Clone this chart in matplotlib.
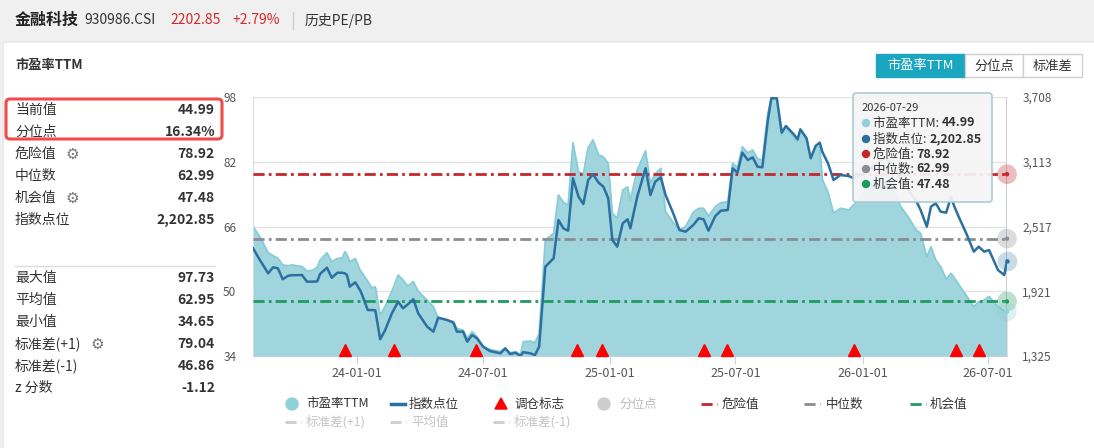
import matplotlib
matplotlib.use('Agg')
import matplotlib.pyplot as plt
import matplotlib.dates as mdates
from matplotlib.patches import FancyBboxPatch, Rectangle, Circle, Polygon
from matplotlib.lines import Line2D
import pandas as pd

plt.rcParams['font.family'] = ['Noto Sans CJK SC', 'DejaVu Sans']

# 数据
dates = [
    '2023-08-03', '2023-08-13', '2023-08-25', '2023-09-01', '2023-09-08', '2023-09-15',
    '2023-09-23', '2023-09-28', '2023-10-13', '2023-10-20', '2023-10-29', '2023-11-04',
    '2023-11-08', '2023-11-18', '2023-11-25', '2023-12-03', '2023-12-10', '2023-12-14',
    '2023-12-17', '2023-12-21', '2023-12-29', '2024-01-05', '2024-01-08', '2024-01-16',
    '2024-01-22', '2024-01-27', '2024-02-03', '2024-02-10', '2024-02-20', '2024-02-29',
    '2024-03-07', '2024-03-14', '2024-03-22', '2024-03-29', '2024-04-11', '2024-04-20',
    '2024-04-27', '2024-05-10', '2024-05-19', '2024-05-24', '2024-06-02', '2024-06-08',
    '2024-06-15', '2024-06-22', '2024-07-01', '2024-07-11', '2024-07-26', '2024-08-02',
    '2024-08-09', '2024-08-17', '2024-08-24', '2024-08-28', '2024-09-07', '2024-09-14',
    '2024-09-20', '2024-09-29', '2024-10-11', '2024-10-18', '2024-10-25', '2024-11-01',
    '2024-11-08', '2024-11-16', '2024-11-23', '2024-11-30', '2024-12-07', '2024-12-15',
    '2024-12-22', '2024-12-29', '2025-01-04', '2025-01-11', '2025-01-19', '2025-01-26',
    '2025-01-30', '2025-02-09', '2025-02-21', '2025-02-28', '2025-03-07', '2025-03-15',
    '2025-03-22', '2025-04-02', '2025-04-11', '2025-04-20', '2025-05-01', '2025-05-09',
    '2025-05-16', '2025-05-23', '2025-06-02', '2025-06-10', '2025-06-20', '2025-06-27',
    '2025-07-04', '2025-07-11', '2025-07-19', '2025-07-26', '2025-08-02', '2025-08-09',
    '2025-08-17', '2025-08-22', '2025-08-30', '2025-09-06', '2025-09-12', '2025-09-23',
    '2025-09-29', '2025-10-03', '2025-10-12', '2025-10-18', '2025-10-25', '2025-10-31',
    '2025-11-04', '2025-11-12', '2025-11-20', '2025-11-30', '2025-12-12', '2025-12-19',
    '2025-12-29', '2026-01-10', '2026-01-22', '2026-02-02', '2026-02-14', '2026-02-25',
    '2026-03-08', '2026-03-19', '2026-03-26', '2026-04-04', '2026-04-10', '2026-04-17',
    '2026-04-24', '2026-05-02', '2026-05-09', '2026-05-13', '2026-05-19', '2026-05-31',
    '2026-06-11', '2026-06-18', '2026-06-26', '2026-07-03', '2026-07-16', '2026-07-25',
    '2026-07-29',
]
pe_ttm = [
    66.0, 63.5, 59.5, 58.8, 58.2, 56.5,
    56.3, 56.5, 56.1, 55.0, 55.2, 56.0,
    57.7, 59.5, 57.3, 58.1, 58.2, 59.8,
    59.0, 57.3, 58.1, 55.2, 54.5, 52.5,
    50.8, 51.1, 44.1, 46.2, 50.0, 54.0,
    52.8, 51.3, 52.4, 50.0, 47.8, 46.2,
    43.3, 42.9, 42.5, 40.8, 40.4, 38.4,
    40.0, 38.8, 36.3, 35.6, 35.1, 35.9,
    34.8, 35.1, 34.3, 37.5, 37.7, 37.3,
    39.5, 62.7, 64.3, 73.8, 72.0, 71.3,
    86.7, 79.5, 79.0, 85.5, 87.4, 83.7,
    83.2, 81.6, 69.3, 68.0, 75.0, 75.8,
    72.5, 80.0, 84.7, 76.7, 79.0, 80.4,
    69.7, 67.0, 65.1, 66.0, 69.5, 70.5,
    70.5, 68.6, 70.9, 71.9, 72.1, 81.6,
    80.6, 85.7, 84.2, 84.9, 82.8, 82.4,
    94.0, 97.73, 97.7, 88.6, 90.7, 88.2,
    87.0, 89.9, 87.4, 82.8, 85.7, 85.7,
    77.5, 74.5, 69.3, 70.5, 70.1, 71.3,
    73.0, 76.0, 79.0, 81.0, 76.0, 71.0,
    68.4, 65.3, 64.3, 58.5, 61.0, 57.7,
    56.1, 53.0, 54.4, 53.5, 52.0, 49.0,
    46.2, 47.4, 47.8, 48.7, 46.2, 45.0,
    44.99,
]
index_pts = [
    2316, 2208, 2086, 2141, 2132, 2031,
    2064, 2068, 2070, 2009, 2009, 2012,
    2080, 2137, 2045, 2091, 2091, 2085,
    2070, 1963, 2003, 1930, 1886, 1748,
    1748, 1745, 1479, 1560, 1718, 1825,
    1764, 1800, 1847, 1718, 1595, 1549,
    1678, 1656, 1632, 1549, 1549, 1457,
    1518, 1488, 1411, 1370, 1350, 1396,
    1343, 1355, 1325, 1360, 1350, 1334,
    1411, 2147, 2224, 2576, 2500, 2478,
    2960, 2791, 2723, 2944, 2997, 2920,
    2883, 2776, 2392, 2331, 2546, 2583,
    2500, 2791, 3052, 2806, 2929, 2969,
    2806, 2638, 2484, 2469, 2530, 2592,
    2583, 2478, 2613, 2662, 2668, 3052,
    3012, 3196, 3128, 3153, 3067, 3061,
    3496, 3696, 3696, 3380, 3441, 3368,
    3319, 3411, 3328, 3144, 3257, 3288,
    3200, 3098, 2944, 2990, 2981, 2960,
    2990, 3040, 3100, 3150, 3080, 2950,
    2850, 2760, 2668, 2515, 2699, 2730,
    2653, 2644, 2791, 2714, 2622, 2454,
    2285, 2331, 2285, 2300, 2116, 2070,
    2202.85,
]
rebalance_dates = ['2023-12-14', '2024-02-23', '2024-06-21', '2024-11-14', '2024-12-20',
                   '2025-05-16', '2025-06-19', '2025-12-19', '2026-05-16', '2026-06-18']
danger_val = 78.92
median_val = 62.99
chance_val = 47.48

stat_labels_top = ['当前值', '分位点', '危险值', '中位数', '机会值', '指数点位']
stat_values_top = ['44.99', '16.34%', '78.92', '62.99', '47.48', '2,202.85']
stat_labels_bottom = ['最大值', '平均值', '最小值', '标准差(+1)', '标准差(-1)', 'z 分数']
stat_values_bottom = ['97.73', '62.95', '34.65', '79.04', '46.86', '-1.12']

pe_ticks = [34, 50, 66, 82, 98]
idx_ticks = [1325, 1921, 2517, 3113, 3708]
x_ticks = ['2024-01-01', '2024-07-01', '2025-01-01', '2025-07-01', '2026-01-01', '2026-07-01']

# 颜色
c_fill = '#a0d5de'
c_edge = '#86ccd7'
c_idx = '#2b70a0'
c_danger = '#c3272b'
c_median = '#8a8d93'
c_chance = '#1e9c5e'
c_teal = '#1ba6c0'

dt = pd.to_datetime(dates)
rb = pd.to_datetime(rebalance_dates)
xt = pd.to_datetime(x_ticks)

W, H = 1094, 448
fig = plt.figure(figsize=(W / 100, H / 100), dpi=100)
fig.patch.set_facecolor('#f0f0f0')

# 背景层（像素坐标）
bg = fig.add_axes([0, 0, 1, 1], zorder=0)
bg.set_xlim(0, W)
bg.set_ylim(H, 0)
bg.axis('off')
bg.add_patch(FancyBboxPatch((3, 42), W, H, boxstyle='round,pad=0,rounding_size=4',
                            fc='white', ec='#e6e6e6', lw=1))

# 顶部标题
bg.text(15, 20, '金融科技', fontsize=11.5, fontweight='bold', va='center', color='#222')
bg.text(84, 20, '930986.CSI', fontsize=10, va='center', color='#333')
bg.text(170, 20, '2202.85', fontsize=10, va='center', color='#d7262b')
bg.text(232, 20, '+2.79%', fontsize=10, va='center', color='#d7262b')
bg.plot([293, 293], [12, 29], color='#cfcfcf', lw=1)
bg.text(305, 20, '历史PE/PB', fontsize=10, va='center', color='#333')

bg.text(15, 65, '市盈率TTM', fontsize=9.5, fontweight='bold', va='center', color='#333')

# 左侧统计
ys_top = [110, 132, 154, 176, 198, 220]
ys_bottom = [278, 300, 322, 344, 366, 388]
for lab, val, y in zip(stat_labels_top, stat_values_top, ys_top):
    bg.text(15, y, lab, fontsize=10, va='center', color='#333')
    bg.text(215, y, val, fontsize=10, fontweight='bold', va='center', ha='right', color='#333')
for lab, val, y in zip(stat_labels_bottom, stat_values_bottom, ys_bottom):
    bg.text(15, y, lab, fontsize=10, va='center', color='#333')
    bg.text(215, y, val, fontsize=10, fontweight='bold', va='center', ha='right', color='#333')
for gx, gy in [(72, 154), (72, 198), (97, 344)]:
    bg.text(gx, gy, '⚙', fontsize=11, va='center', ha='center', color='#777',
            family=['DejaVu Sans'])
bg.plot([15, 215], [266, 266], color='#dcdcdc', lw=1)
bg.add_patch(FancyBboxPatch((6, 99), 216, 40, boxstyle='round,pad=0,rounding_size=4',
                            fc='none', ec='#ef4b4b', lw=2.2))

# 右上按钮
bg.add_patch(Rectangle((876, 54), 89, 23, fc=c_teal, ec=c_teal))
bg.add_patch(Rectangle((965, 54), 58, 23, fc='white', ec='#cfcfcf'))
bg.add_patch(Rectangle((1023, 54), 59, 23, fc='white', ec='#cfcfcf'))
bg.text(920.5, 66, '市盈率TTM', fontsize=9.5, color='white', ha='center', va='center')
bg.text(994, 66, '分位点', fontsize=9.5, color='#333', ha='center', va='center')
bg.text(1052.5, 66, '标准差', fontsize=9.5, color='#333', ha='center', va='center')

# 图例
dd = (0, (4, 1.6, 1, 1.6))
ly1, ly2 = 404, 422
bg.add_patch(Circle((292, ly1), 6, color='#8fd0da'))
bg.text(306, ly1, '市盈率TTM', fontsize=9, va='center', color='#333')
bg.plot([391, 405], [ly1, ly1], color=c_idx, lw=2.5)
bg.text(409, ly1, '指数点位', fontsize=9, va='center', color='#333')
bg.add_patch(Polygon([[495, ly1 + 5], [507, ly1 + 5], [501, ly1 - 6]], color='#ff0000'))
bg.text(514, ly1, '调仓标志', fontsize=9, va='center', color='#333')
bg.add_patch(Circle((604, ly1), 6, color='#cccccc'))
bg.text(619, ly1, '分位点', fontsize=9, va='center', color='#bbbbbb')
bg.plot([701, 717], [ly1, ly1], color=c_danger, lw=2, linestyle=dd)
bg.text(722, ly1, '危险值', fontsize=9, va='center', color='#333')
bg.plot([804, 820], [ly1, ly1], color=c_median, lw=2, linestyle=dd)
bg.text(826, ly1, '中位数', fontsize=9, va='center', color='#333')
bg.plot([910, 926], [ly1, ly1], color=c_chance, lw=2, linestyle=dd)
bg.text(930, ly1, '机会值', fontsize=9, va='center', color='#333')
for x0, lab in [(285, '标准差(+1)'), (390, '平均值'), (493, '标准差(-1)')]:
    bg.plot([x0, x0 + 16], [ly2, ly2], color='#cccccc', lw=2, linestyle=dd)
    bg.text(x0 + 21, ly2, lab, fontsize=9, va='center', color='#c4c4c4')

# 主图
ax = fig.add_axes([253 / W, (H - 356) / H, 754 / W, 259 / H], zorder=1)
ax.patch.set_alpha(0)
ax.set_axisbelow(True)
ax.fill_between(dt, pe_ticks[0], pe_ttm, color=c_fill, lw=0, zorder=1)
ax.plot(dt, pe_ttm, color=c_edge, lw=1.3, zorder=2)
hl = (0, (4, 1.5, 1, 1.5))
ax.axhline(danger_val, color=c_danger, lw=2, linestyle=hl, zorder=3)
ax.axhline(median_val, color=c_median, lw=2, linestyle=hl, zorder=3)
ax.axhline(chance_val, color=c_chance, lw=2, linestyle=hl, zorder=3)
ax.axvline(dt[-1], color='#c0c4cc', lw=1.2, zorder=3)

ax.set_xlim(dt[0], dt[-1])
ax.set_ylim(pe_ticks[0], pe_ticks[-1])
ax.set_yticks(pe_ticks)
ax.grid(axis='y', color='#e2e2e2', lw=1)
ax.set_xticks(xt)
ax.xaxis.set_major_formatter(mdates.DateFormatter('%y-%m-%d'))
ax.tick_params(axis='x', length=6, color='#c8d0e0', labelcolor='#555', labelsize=9, pad=2)
ax.tick_params(axis='y', length=0, labelcolor='#555', labelsize=8.5, pad=12)
for s in ['top', 'right']:
    ax.spines[s].set_visible(False)
ax.spines['left'].set_color('#d5dbe5')
ax.spines['bottom'].set_color('#c8d0e0')

# 调仓标志
tri_y = pe_ticks[0] + 0.022 * (pe_ticks[-1] - pe_ticks[0])
ax.plot(rb, [tri_y] * len(rb), linestyle='none', marker='^', markersize=8.5,
        color='#ff0000', clip_on=False, zorder=5)

# 右端圆点
ax.scatter([dt[-1]] * 4, [danger_val, median_val, chance_val, pe_ttm[-1]], s=200,
           c=[c_danger, c_median, c_chance, '#8fd0da'], alpha=0.3, lw=0, clip_on=False, zorder=6)
ax.scatter([dt[-1]] * 4, [danger_val, median_val, chance_val, pe_ttm[-1]], s=10,
           c=[c_danger, c_median, c_chance, '#8fd0da'], lw=0, clip_on=False, zorder=7)

ax2 = ax.twinx()
ax2.plot(dt, index_pts, color=c_idx, lw=1.8, zorder=4)
ax2.scatter([dt[-1]], [index_pts[-1]], s=200, color=c_idx, alpha=0.25, lw=0, clip_on=False)
ax2.scatter([dt[-1]], [index_pts[-1]], s=10, color=c_idx, lw=0, clip_on=False)
ax2.set_ylim(idx_ticks[0], idx_ticks[-1])
ax2.set_yticks(idx_ticks)
ax2.set_yticklabels([f'{v:,}' for v in idx_ticks])
ax2.tick_params(axis='y', length=0, labelcolor='#555', labelsize=8.5, pad=11)
for s in ax2.spines.values():
    s.set_visible(False)

# 提示框
tip = fig.add_axes([0, 0, 1, 1], zorder=10)
tip.set_xlim(0, W)
tip.set_ylim(H, 0)
tip.axis('off')
tip.patch.set_alpha(0)
tip.add_patch(FancyBboxPatch((853, 93), 139, 109, boxstyle='round,pad=0,rounding_size=3',
                             fc='#f5f5f5', ec='#a8c8cf', lw=1.2, alpha=0.93))
tip.text(862, 108, '2026-07-29', fontsize=8, va='center', color='#333')
tip_items = [('市盈率TTM: ', f'{pe_ttm[-1]:.2f}', '#8fd0da'),
             ('指数点位: ', f'{index_pts[-1]:,.2f}', c_idx),
             ('危险值: ', f'{danger_val:.2f}', c_danger),
             ('中位数: ', f'{median_val:.2f}', c_median),
             ('机会值: ', f'{chance_val:.2f}', c_chance)]
for (lab, val, col), y in zip(tip_items, [123, 139, 154, 169, 184]):
    tip.add_patch(Circle((866, y), 3.5, color=col))
    t = tip.text(873, y, lab, fontsize=9, va='center', color='#333')
    tip.annotate(val, xy=(1, 0.5), xycoords=t, va='center', fontsize=9,
                 fontweight='bold', color='#333')

fig.savefig('out.png', dpi=100)
